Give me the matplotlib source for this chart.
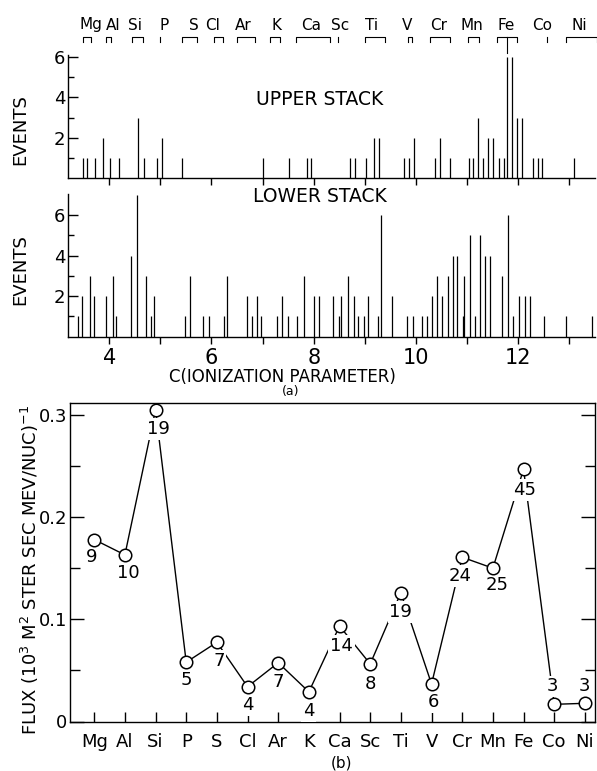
import numpy as np
import matplotlib
matplotlib.use('Agg')
import matplotlib.pyplot as plt
from matplotlib.transforms import blended_transform_factory

plt.rcParams['font.family'] = ['DejaVu Sans']

# element markers along the top of panel (a), in units of C
top_elements = ['Mg', 'Al', 'Si', 'P', 'S', 'Cl', 'Ar', 'K', 'Ca', 'Sc',
                'Ti', 'V', 'Cr', 'Mn', 'Fe', 'Co', 'Ni']
top_label_c = [3.65, 4.07, 4.51, 5.08, 5.66, 6.03, 6.62, 7.28, 7.94, 8.51,
               9.13, 9.82, 10.44, 11.09, 11.76, 12.47, 13.19]
bracket_lo = [3.48, 3.94, 4.44, 4.99, 5.43, 6.04, 6.50, 7.15, 7.65, 8.48,
              9.01, 9.84, 10.27, 11.02, 11.58, 12.56, 12.93]
bracket_hi = [3.64, 4.03, 4.66, 4.99, 5.72, 6.22, 6.86, 7.34, 8.32, 8.48,
              9.39, 9.92, 10.67, 11.23, 11.97, 12.56, 13.54]

# upper stack events
upper_c = [3.48, 3.56, 3.72, 3.87, 4.01, 4.19, 4.56, 4.67, 4.94, 5.03, 5.42,
           7.01, 7.51, 7.86, 7.95, 8.71, 8.81, 9.02, 9.18, 9.28, 9.77, 9.87,
           9.96, 10.37, 10.47, 10.67, 11.03, 11.12, 11.22, 11.32, 11.41, 11.50,
           11.63, 11.72, 11.79, 11.89, 11.98, 12.08, 12.30, 12.38, 12.47, 13.10]
upper_n = [1, 1, 1, 2, 1, 1, 3, 1, 1, 2, 1,
           1, 1, 1, 1, 1, 1, 1, 2, 2, 1, 1,
           2, 1, 2, 1, 1, 1, 3, 1, 2, 2,
           1, 1, 6, 6, 3, 3, 1, 1, 1, 1]

# lower stack events
lower_c = [3.38, 3.47, 3.62, 3.71, 3.93, 4.07, 4.14, 4.42, 4.55, 4.72, 4.82,
           4.87, 5.49, 5.58, 5.83, 5.95, 6.24, 6.30, 6.69, 6.79, 6.89, 6.96,
           7.28, 7.38, 7.49, 7.68, 7.82, 8.01, 8.10, 8.37, 8.49, 8.53, 8.67,
           8.78, 8.87, 8.98, 9.07, 9.25, 9.32, 9.53, 9.83, 9.94, 10.12, 10.22,
           10.32, 10.42, 10.52, 10.62, 10.72, 10.81, 10.93, 10.95, 11.05, 11.16,
           11.25, 11.36, 11.46, 11.68, 11.80, 11.91, 12.01, 12.13, 12.23, 12.51,
           12.93, 13.44]
lower_n = [1, 2, 3, 2, 2, 3, 1, 4, 7, 3, 1,
           2, 1, 3, 1, 1, 1, 3, 2, 1, 2, 1,
           1, 2, 1, 1, 3, 2, 2, 2, 1, 2, 3,
           2, 1, 1, 2, 1, 6, 2, 1, 1, 1, 1,
           2, 3, 2, 3, 4, 4, 1, 3, 5, 1,
           5, 4, 4, 3, 6, 1, 2, 2, 2, 1,
           1, 1]

# panel (b): flux per element and number of events
elements = ['Mg', 'Al', 'Si', 'P', 'S', 'Cl', 'Ar', 'K', 'Ca', 'Sc', 'Ti',
            'V', 'Cr', 'Mn', 'Fe', 'Co', 'Ni']
flux = [0.178, 0.163, 0.305, 0.058, 0.0775, 0.034, 0.0575, 0.029, 0.0934,
        0.0563, 0.126, 0.0367, 0.1607, 0.150, 0.2468, 0.0168, 0.0178]
counts = [9, 10, 19, 5, 7, 4, 7, 4, 14, 8, 19, 6, 24, 25, 45, 3, 3]

W, H = 597.0, 771.0
def fx(px):
    return px / W
def fy(py):
    return 1 - py / H

fig = plt.figure(figsize=(5.97, 7.71), dpi=100)

xlo, xhi = 3.192, 13.505
ppu = 20.25  # pixels per event

def stack_axes(base_px, ytop):
    ax = fig.add_axes([fx(68), fy(base_px), fx(595) - fx(68), ytop * ppu / H])
    ax.set_xlim(xlo, xhi)
    ax.set_ylim(0, ytop)
    ax.spines['top'].set_visible(False)
    ax.spines['right'].set_visible(False)
    for s in ['left', 'bottom']:
        ax.spines[s].set_linewidth(1.0)
    ax.set_yticks([2, 4, 6])
    ax.set_yticks([1, 3, 5], minor=True)
    ax.set_xticks(np.arange(4, 14))
    ax.tick_params(axis='y', which='major', direction='in', length=7, width=1,
                   labelsize=13, pad=2)
    ax.tick_params(axis='y', which='minor', direction='in', length=4, width=1)
    ax.tick_params(axis='x', direction='out', length=5, width=1)
    return ax

ax1 = stack_axes(178.3, 6.1)
ax1.vlines(upper_c, 0, upper_n, color='black', lw=0.9)
ax1.set_xticklabels([])
ax1.text(8.12, 3.87, 'UPPER STACK', ha='center', va='center', fontsize=13.5)

ax2 = stack_axes(336.7, 7.05)
ax2.vlines(lower_c, 0, lower_n, color='black', lw=0.9)
ax2.set_xticks(np.arange(4, 14))
ax2.set_xticklabels([str(v) if v % 2 == 0 else '' for v in range(4, 14)])
ax2.tick_params(axis='x', labelsize=15, pad=3)
ax2.text(8.12, 6.9, 'LOWER STACK', ha='center', va='center', fontsize=13.5)

fig.text(fx(20), fy(130), 'EVENTS', rotation=90, ha='center', va='center', fontsize=13)
fig.text(fx(20), fy(270), 'EVENTS', rotation=90, ha='center', va='center', fontsize=13)
fig.text(fx(282), fy(377), 'C(IONIZATION PARAMETER)', ha='center', va='center', fontsize=12)
fig.text(fx(291), fy(392), '(a)', ha='center', va='center', fontsize=9)

# element brackets above panel (a)
tr = blended_transform_factory(ax1.transData, fig.transFigure)
for name, xc, lo, hi in zip(top_elements, top_label_c, bracket_lo, bracket_hi):
    ax1.text(xc, fy(25), name, transform=tr, ha='center', va='center',
             fontsize=11, clip_on=False)
    if hi - lo < 0.02:
        ax1.plot([lo, lo], [fy(37), fy(42)], transform=tr, color='black',
                 lw=0.8, clip_on=False)
    else:
        ax1.plot([lo, lo, hi, hi], [fy(42), fy(37), fy(37), fy(42)],
                 transform=tr, color='black', lw=0.8, clip_on=False)
    if name == 'Fe':
        mid = 11.79
        ax1.plot([mid, mid], [fy(37), fy(53)], transform=tr, color='black',
                 lw=0.8, clip_on=False)

# panel (b)
ax3 = fig.add_axes([fx(70), fy(721.5), fx(595) - fx(70), (721.5 - 403) / H])
x = np.arange(len(elements))
ax3.plot(x, flux, color='black', lw=1.0, zorder=2)
ax3.plot(x, flux, 'o', ms=9, mfc='white', mec='black', mew=1.1, zorder=4)
offs = [(-3, -17), (3, -18), (3, -19), (0, -18), (2, -19), (0, -18),
        (0, -19), (0, -19), (2, -20), (0, -20), (0, -19), (2, -18),
        (-2, -19), (4, -17), (1, -21), (-2, 18), (0, 17)]
for xi, yi, n, (dx, dy) in zip(x, flux, counts, offs):
    ax3.annotate(str(n), (xi, yi), xytext=(dx, dy), textcoords='offset pixels',
                 ha='center', va='center', fontsize=13, zorder=3,
                 bbox=dict(boxstyle='square,pad=0.1', fc='white', ec='none'))
ax3.set_xlim(-0.79, 16.33)
ax3.set_ylim(0, 0.3116)
ax3.set_xticks(x)
ax3.set_xticklabels(elements)
ax3.set_yticks([0, 0.1, 0.2, 0.3])
ax3.set_yticklabels(['0', '0.1', '0.2', '0.3'])
ax3.set_yticks([0.05, 0.15, 0.25], minor=True)
ax3.tick_params(axis='x', direction='in', length=7, width=1, labelsize=13, pad=8)
ax3.tick_params(axis='y', which='major', direction='in', length=10, width=1,
                labelsize=13, pad=2, right=True)
ax3.tick_params(axis='y', which='minor', direction='in', length=7, width=1, right=True)
for s in ax3.spines.values():
    s.set_linewidth(1.0)
fig.text(fx(30), fy(570), r'FLUX (10$^3$ M$^2$ STER SEC MEV/NUC)$^{-1}$', rotation=90,
         ha='center', va='center', fontsize=13)
fig.text(fx(341), fy(763), '(b)', ha='center', va='center', fontsize=11)

fig.savefig('out.png', dpi=100)
